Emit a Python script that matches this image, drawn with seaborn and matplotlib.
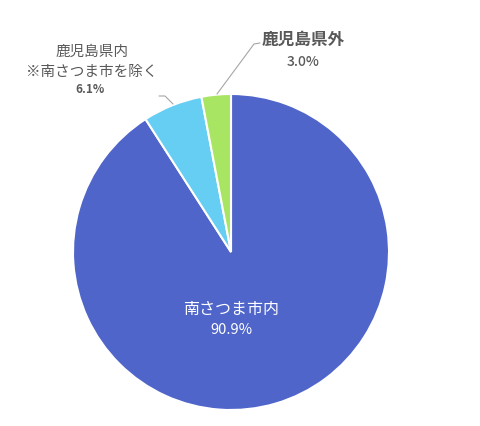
import matplotlib
matplotlib.use("Agg")
import matplotlib.pyplot as plt
import seaborn as sns
import numpy as np

sns.set_theme(style="white")
plt.rcParams['font.family'] = ['Noto Sans CJK JP', 'DejaVu Sans']

categories = ["南さつま市内", "鹿児島県内\n※南さつま市を除く", "鹿児島県外"]
values = [90.9, 6.1, 3.0]
pct_labels = ["90.9%", "6.1%", "3.0%"]
colors = ["#4F65C9", "#66CDF3", "#A7E562"]

W, H = 480, 427
fig = plt.figure(figsize=(W / 100, H / 100), dpi=100)
cx, cy, r = 231, 253, 158
ax = fig.add_axes([(cx - r) / W, (H - cy - r) / H, 2 * r / W, 2 * r / H])

ax.pie(values, colors=colors, startangle=90, counterclock=False, radius=1,
       wedgeprops=dict(edgecolor="white", linewidth=1.5))
ax.set_xlim(-1, 1)
ax.set_ylim(-1, 1)
ax.set_aspect("equal")
ax.axis("off")

def px(x, y):
    return ((x - cx) / r, (cy - y) / r)

gray = "#595959"
# inner label
ax.text(*px(cx, 309), categories[0], ha="center", va="center", color="white", fontsize=11.5)
ax.text(*px(cx, 330), pct_labels[0], ha="center", va="center", color="white", fontsize=10.5)

# outside labels
ax.text(*px(303, 40), categories[2], ha="center", va="center", color=gray, fontsize=12, fontweight="bold", clip_on=False)
ax.text(*px(303, 62), pct_labels[2], ha="center", va="center", color=gray, fontsize=10, fontweight="medium", clip_on=False)

lines = categories[1].split("\n")
ax.text(*px(92, 52), lines[0], ha="center", va="center", color=gray, fontsize=10.5, clip_on=False)
ax.text(*px(92, 72), lines[1], ha="center", va="center", color=gray, fontsize=10.5, clip_on=False)
ax.text(*px(90, 90), pct_labels[1], ha="center", va="center", color=gray, fontsize=8.5, fontweight="bold", clip_on=False)

# leader lines
lc = "#A6A6A6"
pts = np.array([px(217, 95), px(254, 45), px(260, 44)])
ax.plot(pts[:, 0], pts[:, 1], color=lc, lw=0.8, clip_on=False)
pts = np.array([px(173, 105), px(165, 97), px(159, 97)])
ax.plot(pts[:, 0], pts[:, 1], color=lc, lw=0.8, clip_on=False)

fig.savefig("out.png", dpi=100, facecolor="white")
